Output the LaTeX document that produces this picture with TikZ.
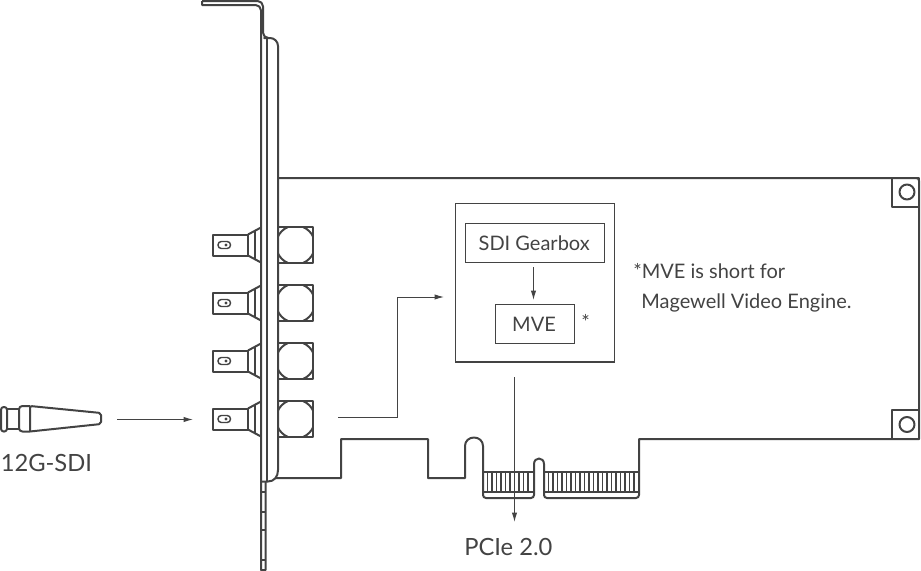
\documentclass[tikz,border=0pt]{standalone}
\usepackage{fontspec}
\setmainfont{Lato}
\usetikzlibrary{arrows.meta}
\definecolor{ink}{HTML}{434343}
\tikzset{
  part/.style={draw=ink,line width=1.5pt,line join=round},
  thin part/.style={draw=ink,line width=0.9pt},
  boxn/.style={draw=ink,line width=0.9pt,inner sep=0pt,text=ink,font=\fontsize{15}{18}\selectfont},
  label/.style={text=ink,inner sep=0pt,font=\fontsize{15}{18}\selectfont},
  big label/.style={text=ink,inner sep=0pt,font=\fontsize{17.8}{20}\selectfont},
  flow/.style={draw=ink,line width=0.7pt,-{Latex[length=7pt,width=4pt]}}
}
\begin{document}
\begin{tikzpicture}[x=0.75pt,y=-0.75pt]
\useasboundingbox (0,0) rectangle (921,571);
% bracket
\draw[part] (202,1) [rounded corners=4pt] -- (263,1) -- (263,38) [sharp corners] -- (264,38) [rounded corners=6pt] -- (278,38) [sharp corners] -- (278,470)
  .. controls (278,477) and (274,481.5) .. (268,481.5) -- (261,481.5);
\draw[part] (202,1) -- (202,5) [rounded corners=4pt] -- (261,5) [sharp corners] -- (261,570) -- (265.5,570) -- (265.5,481.5);
\draw[part] (267,38) -- (267,481.5);
\foreach \ty in {492,512,530,560} \draw[part] (261,\ty) -- (265.5,\ty);
% board
\draw[part] (278,178) [rounded corners=2pt] -- (919,178) [sharp corners] -- (919,439) -- (639,439)
  [rounded corners=2.2pt] -- (639,498) -- (544,498) [sharp corners] -- (544,464)
  .. controls (544,460.5) and (541.5,458.5) .. (539,458.5) .. controls (536.5,458.5) and (534,460.5) .. (534,464)
  [rounded corners=2.2pt] -- (534,498) -- (483,498) [sharp corners] -- (483,446)
  .. controls (483,441) and (479,437.5) .. (474,437.5) .. controls (469,437.5) and (465,441) .. (465,446)
  -- (465,478) -- (428,478) -- (428,439) -- (341,439) -- (341,478) -- (276,478);
% fingers
\draw[part] (483,472) -- (534,472) (483,492) -- (534,492) (544,472) -- (639,472) (544,492) -- (639,492);
\foreach \fx in {487.5,492,...,531} \draw[thin part] (\fx,472) -- (\fx,492);
\foreach \fx in {548.5,553,...,636} \draw[thin part] (\fx,472) -- (\fx,492);
% mounting holes
\draw[part] (891.5,178) rectangle (919,207) (891.5,410) rectangle (919,439);
\draw[part] (907,192) circle[radius=7.5] (907,424.5) circle[radius=7.5];
% connectors
\foreach \cy in {245,303,361,419}{
  \draw[part] (213,\cy-10.5) rectangle (248,\cy+10.5);
  \draw[part] (248,\cy-10.5) -- (261,\cy-17.5) (248,\cy+10.5) -- (261,\cy+17.5);
  \draw[part] (254.5,\cy-14) -- (254.5,\cy+14);
  \draw[draw=ink,line width=1.1pt,rounded corners=2.5pt] (218,\cy-3.5) rectangle (230.5,\cy+3.5);
  \fill[ink] (226,\cy) circle[radius=1.6];
  \draw[part] (278,\cy-18) rectangle (313,\cy+18);
  \begin{scope}
    \clip (278,\cy-18) rectangle (313,\cy+18);
    \draw[part] (295.5,\cy) circle[radius=19.5];
  \end{scope}
}
% plug
\draw[part,rounded corners=2pt] (7,407) -- (1,407) -- (1,431.5) -- (7,431.5) -- cycle;
\draw[part] (7,409) -- (19,409) (7,428.5) -- (19,428.5);
\draw[part,rounded corners=2.5pt] (30,406) -- (19,406) -- (19,431.5) -- (30,431.5);
\draw[part,rounded corners=1.5pt] (30,431.5) -- (30,406) -- (101,413) -- (101,424) -- (30,431.5);
% blocks
\draw[thin part] (455.5,203.5) rectangle (614.5,362);
\node[boxn,minimum width=139.5*0.75pt,minimum height=39*0.75pt] (gear) at (535,243) {\kern-1.2pt SDI Gearbox};
\node[boxn,minimum width=79.5*0.75pt,minimum height=39*0.75pt] (mve) at (535,324) {\kern-1.5pt MVE};
\coordinate (g1) at (533.5,267);
\coordinate (g2) at (533.5,300);
\draw[flow] (g1) -- (g2);
\coordinate (p1) at (117,419.5);
\coordinate (p2) at (193,419.5);
\draw[flow] (p1) -- (p2);
\coordinate (s1) at (338,417);
\coordinate (s2) at (397.5,297);
\coordinate (s3) at (444,297);
\draw[flow] (s1) -- (s1-|s2) -- (s2) -- (s3);
\coordinate (b1) at (514.5,377);
\coordinate (b2) at (514.5,522);
\draw[flow] (b1) -- (b2);
% text
\node[big label,anchor=base west] (t1) at (0.5,471) {12G-SDI};
\node[big label,anchor=base west] (t2) at (464,555.5) {PCIe 2.0};
\node[label,anchor=base west] (t3) at (633,278) {*MVE is short for};
\node[label,anchor=base west] (t4) at (641,308) {Magewell Video Engine.};
\node[label,anchor=base west] (t5) at (581,329) {*};
\end{tikzpicture}
\end{document}
